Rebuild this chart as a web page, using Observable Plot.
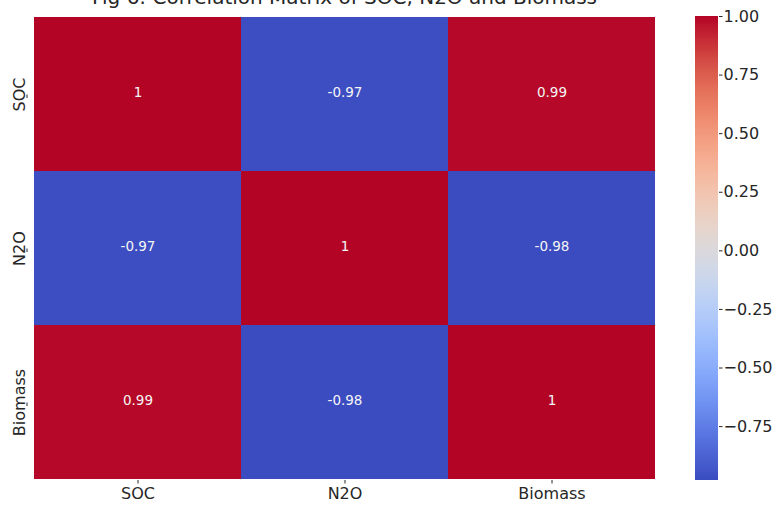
<!DOCTYPE html>
<html>
<head>
<meta charset="utf-8">
<script src="https://cdn.jsdelivr.net/npm/d3@7"></script>
<script src="https://cdn.jsdelivr.net/npm/@observablehq/plot@0.6"></script>
<style>
  html, body { margin: 0; padding: 0; background: #fff; }
  #wrap { position: relative; width: 777px; height: 506px; overflow: hidden; }
  #wrap svg { position: absolute; left: 0; top: 0; overflow: visible; }
</style>
</head>
<body>
<div id="wrap"></div>
<script>
const title = "Fig 6: Correlation Matrix of SOC, N2O and Biomass";
const variables = ["SOC", "N2O", "Biomass"];
const correlations = [
  [1, -0.97, 0.99],
  [-0.97, 1, -0.98],
  [0.99, -0.98, 1]
];
const colorTicks = [-0.75, -0.5, -0.25, 0, 0.25, 0.5, 0.75, 1.0];
const vmin = -0.98, vmax = 1.0;
const coolwarm = ["#3b4cc0","#5977e3","#7b9ff9","#9ebeff","#c0d4f5","#dddcdc","#f2cbb7","#f7ac8e","#ee8468","#d65244","#b40426"];

const cells = [];
variables.forEach((row, i) => variables.forEach((col, j) => cells.push({row, col, value: correlations[i][j]})));

const colorScale = {type: "linear", domain: [vmin, vmax], interpolate: d3.interpolateRgbBasis(coolwarm)};
const font = "DejaVu Sans, sans-serif";
const fmt = d => d3.format(".2f")(d).replace("-", "\u2212");

const main = Plot.plot({
  width: 777, height: 506,
  marginLeft: 33, marginRight: 122, marginTop: 16, marginBottom: 26,
  style: {fontFamily: font, fontSize: "16px", color: "#262626", background: "transparent"},
  x: {domain: variables, padding: 0, label: null, axis: null},
  y: {domain: variables, padding: 0, label: null, axis: null},
  color: colorScale,
  marks: [
    Plot.cell(cells, {x: "col", y: "row", fill: "value", inset: 0}),
    Plot.text(cells, {x: "col", y: "row", text: d => String(d.value), fill: "#f5f5f5", fontSize: 13.5, dy: -1.5}),
    Plot.axisX({tickSize: 3.5, tickPadding: 4, fontSize: 16, label: null}),
    Plot.axisY({tickSize: 3.5, tickPadding: 4, fontSize: 16, rotate: -90, textAnchor: "middle", dx: -6, label: null}),
    Plot.text([title], {frameAnchor: "top", dy: -13, lineAnchor: "bottom", fontSize: 20, fill: "#262626"})
  ]
});

const steps = d3.range(vmin, vmax, 0.004);
const bar = Plot.plot({
  width: 777, height: 506,
  marginLeft: 695, marginRight: 59, marginTop: 16, marginBottom: 26,
  style: {fontFamily: font, fontSize: "16px", color: "#262626", background: "transparent"},
  x: {domain: [0, 1], axis: null},
  y: {domain: [vmin, vmax], axis: null, label: null},
  color: colorScale,
  marks: [
    Plot.rect(steps, {x1: 0, x2: 1, y1: d => d, y2: d => Math.min(d + 0.008, vmax), fill: d => d + 0.002, shapeRendering: "crispEdges"}),
    Plot.axisY({anchor: "right", ticks: colorTicks, tickFormat: fmt, tickSize: 3.5, tickPadding: 1.5, fontSize: 16, label: null})
  ]
});

const wrap = document.getElementById("wrap");
wrap.appendChild(main);
wrap.appendChild(bar);
</script>
</body>
</html>
